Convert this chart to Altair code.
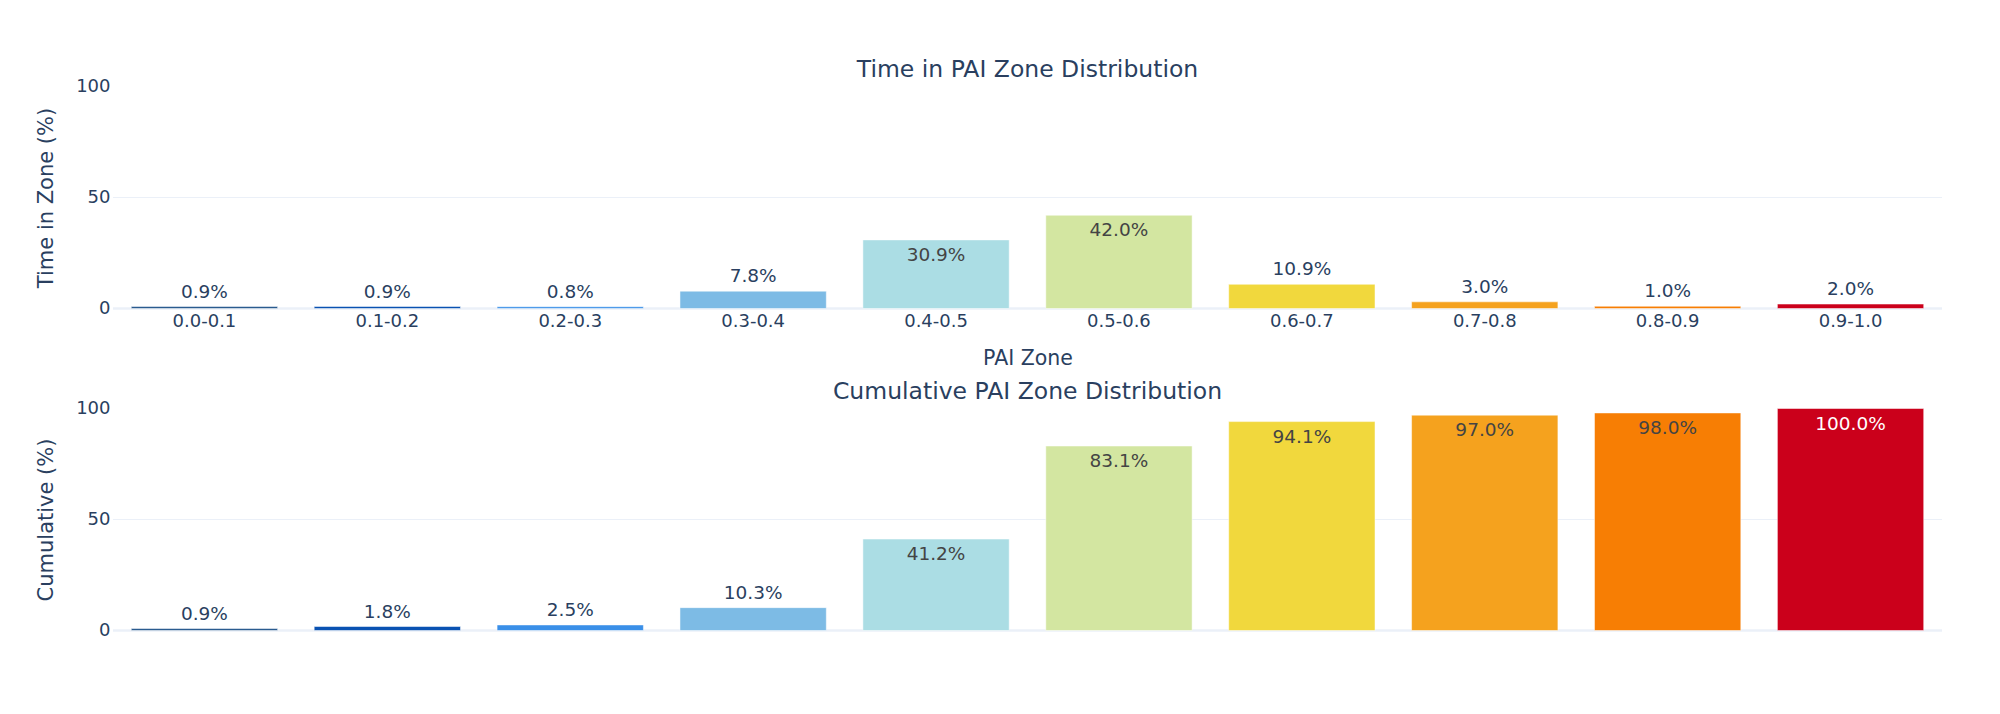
import altair as alt
import pandas as pd

zones = ["0.0-0.1", "0.1-0.2", "0.2-0.3", "0.3-0.4", "0.4-0.5",
         "0.5-0.6", "0.6-0.7", "0.7-0.8", "0.8-0.9", "0.9-1.0"]
time_in_zone = [0.9, 0.9, 0.8, 7.8, 30.9, 42.0, 10.9, 3.0, 1.0, 2.0]
cumulative = [0.9, 1.8, 2.5, 10.3, 41.2, 83.1, 94.1, 97.0, 98.0, 100.0]
zone_colors = ["#2a5b8f", "#0a52b2", "#3a8fe8", "#7dbbe5", "#abdde4",
               "#d3e6a1", "#f1d83d", "#f5a21e", "#f77e04", "#cb001b"]
y_ticks = [0, 50, 100]
grid_values = [50]
zero_values = [0]

FONT = "DejaVu Sans"
INK = "#2a3f5f"
GRID = "#ebf0f8"
W, H = 1829, 222

df = pd.DataFrame({"zone": zones, "time": time_in_zone, "cum": cumulative})
color_scale = alt.Scale(domain=zones, range=zone_colors)


def panel(field, ytitle, title, show_x):
    if show_x:
        x_axis = alt.Axis(title="PAI Zone", labelAngle=0, ticks=False, domain=False,
                          grid=False, labelFont=FONT, labelFontSize=18, labelColor=INK,
                          labelPadding=4, titleFont=FONT, titleFontSize=20.5,
                          titleColor=INK, titleFontWeight="normal", titlePadding=18)
    else:
        x_axis = None
    x = alt.X("zone:N", sort=zones,
              scale=alt.Scale(paddingInner=0.2, paddingOuter=0.1), axis=x_axis)
    y_axis = alt.Axis(title=ytitle, values=y_ticks, grid=False, domain=False, ticks=False,
                      labelFont=FONT, labelFontSize=18, labelColor=INK, labelPadding=3,
                      titleFont=FONT, titleFontSize=21, titleColor=INK,
                      titleFontWeight="normal", titlePadding=19)
    yscale = alt.Scale(domain=[0, 100], nice=False)

    base = alt.Chart(df).transform_calculate(
        label=f"format(datum.{field}, '.1f') + '%'"
    )
    grid = alt.Chart(pd.DataFrame({"v": grid_values})).mark_rule(
        color=GRID, strokeWidth=1.2).encode(y=alt.Y("v:Q", scale=yscale, axis=y_axis))
    zero = alt.Chart(pd.DataFrame({"v": zero_values})).mark_rule(
        color=GRID, strokeWidth=2.5).encode(y=alt.Y("v:Q", scale=yscale, axis=y_axis))
    bars = base.mark_bar(stroke="white", strokeWidth=0.5).encode(
        x=x,
        y=alt.Y(f"{field}:Q", scale=yscale, axis=y_axis),
        color=alt.Color("zone:N", scale=color_scale, legend=None),
    )
    outside = base.transform_filter(f"datum.{field} < 15").mark_text(
        font=FONT, fontSize=18.5, color=INK, baseline="middle", dy=-15
    ).encode(x=x, y=alt.Y(f"{field}:Q", scale=yscale, axis=y_axis),
             text="label:N")
    inside = base.transform_filter(f"datum.{field} >= 15").mark_text(
        font=FONT, fontSize=18.5, baseline="middle", dy=15
    ).encode(x=x, y=alt.Y(f"{field}:Q", scale=yscale, axis=y_axis),
             text="label:N",
             color=alt.condition(alt.datum.zone == "0.9-1.0",
                                 alt.value("white"), alt.value("#444444")))
    return alt.layer(grid, zero, bars, outside, inside).properties(
        width=W, height=H,
        title=alt.TitleParams(title, font=FONT, fontSize=23.5, color=INK,
                              fontWeight="normal", anchor="middle", frame="group",
                              offset=-3.5),
    )


top = panel("time", "Time in Zone (%)", "Time in PAI Zone Distribution", True)
bottom = panel("cum", "Cumulative (%)", "Cumulative PAI Zone Distribution", False)

chart = alt.vconcat(top, bottom, spacing=10).properties(
    padding={"left": 27, "top": 49.5, "right": 10, "bottom": 10},
    background="white",
).configure_view(stroke=None)

chart.save("out.html", embed_options={"renderer": "svg", "actions": False})
